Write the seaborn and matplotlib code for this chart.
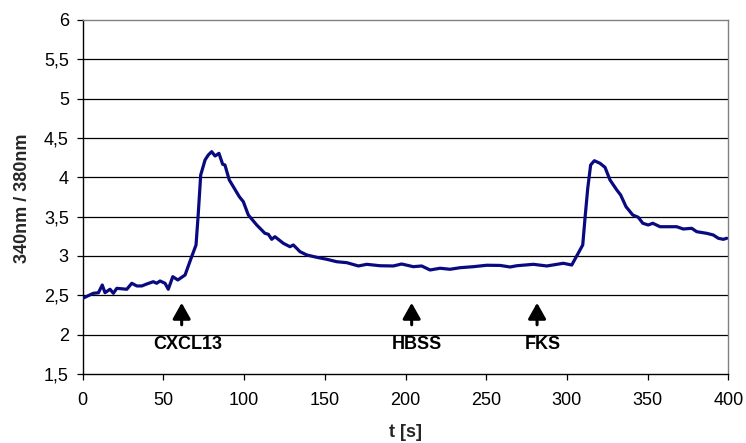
import matplotlib
matplotlib.use("Agg")
import matplotlib.pyplot as plt
import seaborn as sns
import pandas as pd

t_s = [0, 6.6, 9.7, 12.1, 13.8, 16.9, 19.0, 21.1, 27.3, 30.4, 33.5, 36.6, 39.7, 43.7,
       45.8, 47.9, 51.0, 53.0, 55.8, 58.9, 63.4, 67.5, 70.2, 71.6, 73.1, 75.8, 77.8,
       79.9, 82.0, 84.4, 86.7, 88.1, 90.8, 93.3, 97.0, 99.5, 102.6, 107.8, 112.9,
       115.0, 117.1, 119.1, 124.3, 128.4, 130.5, 134.6, 138.8, 145.0, 151.2, 157.4,
       163.6, 170.8, 176.0, 184.2, 192.4, 197.6, 204.8, 210.0, 215.2, 221.4, 227.6,
       233.8, 242.0, 250.3, 258.6, 264.8, 268.9, 279.2, 287.5, 297.8, 303.0, 309.8,
       311.2, 312.9, 314.7, 317.0, 320.5, 323.6, 326.7, 330.9, 333.3, 336.6, 340.8,
       344.2, 347.0, 350.4, 353.2, 357.7, 361.8, 368.0, 372.1, 377.3, 380.4, 386.6,
       390.7, 393.8, 396.9, 399.0]
ratio = [2.462, 2.526, 2.532, 2.631, 2.533, 2.577, 2.526, 2.589, 2.577, 2.653, 2.619,
         2.619, 2.644, 2.673, 2.653, 2.682, 2.653, 2.577, 2.737, 2.695, 2.758, 2.991,
         3.140, 3.543, 4.030, 4.221, 4.284, 4.326, 4.271, 4.305, 4.166, 4.157, 3.966,
         3.881, 3.754, 3.690, 3.521, 3.394, 3.288, 3.276, 3.212, 3.245, 3.161, 3.118,
         3.140, 3.055, 3.013, 2.983, 2.958, 2.927, 2.915, 2.873, 2.894, 2.876, 2.873,
         2.898, 2.864, 2.873, 2.822, 2.844, 2.831, 2.851, 2.864, 2.882, 2.880, 2.860,
         2.876, 2.894, 2.873, 2.907, 2.885, 3.140, 3.479, 3.861, 4.157, 4.211, 4.178,
         4.127, 3.966, 3.839, 3.775, 3.627, 3.521, 3.492, 3.416, 3.394, 3.416, 3.372,
         3.372, 3.372, 3.343, 3.352, 3.309, 3.288, 3.267, 3.225, 3.212, 3.225]

events = ["CXCL13", "HBSS", "FKS"]
event_t = [61.3, 203.8, 281.5]

x_ticks = [0, 50, 100, 150, 200, 250, 300, 350, 400]
y_ticks = [1.5, 2, 2.5, 3, 3.5, 4, 4.5, 5, 5.5, 6]
y_tick_labels = ["1,5", "2", "2,5", "3", "3,5", "4", "4,5", "5", "5,5", "6"]

sns.set_theme(style="white")
plt.rcParams["font.family"] = ["Liberation Sans", "DejaVu Sans"]

df = pd.DataFrame({"t": t_s, "r": ratio})

fig = plt.figure(figsize=(7.46, 4.43), dpi=100)
ax = fig.add_axes([0.1109, 0.1558, 0.8654, 0.7991])

for y in y_ticks[1:-1]:
    ax.axhline(y, color="black", lw=0.9, zorder=1)

sns.lineplot(data=df, x="t", y="r", ax=ax, color="#0a0a80", lw=2.3, zorder=3)

ax.set_xlim(0, 400)
ax.set_ylim(1.5, 6)
ax.set_xticks(x_ticks)
ax.set_xticklabels([str(v) for v in x_ticks])
ax.set_yticks(y_ticks)
ax.set_yticklabels(y_tick_labels)
ax.tick_params(axis="both", direction="out", length=4, width=0.9, color="black",
               labelsize=13, labelcolor="black", left=True, bottom=True)
ax.tick_params(axis="x", pad=9)
ax.tick_params(axis="y", pad=6)

for s in ["left", "bottom"]:
    ax.spines[s].set_color("black")
    ax.spines[s].set_linewidth(1.0)
for s in ["top", "right"]:
    ax.spines[s].set_color("#808080")
    ax.spines[s].set_linewidth(1.0)

ax.set_xlabel("t [s]", fontsize=13, fontweight="bold", va="center")
ax.set_ylabel("340nm / 380nm", fontsize=13, fontweight="bold", va="center", ha="center")
ax.xaxis.set_label_coords(0.5, -0.164)
ax.yaxis.set_label_coords(-0.094, 0.497)

for name, tx in zip(events, event_t):
    ax.annotate("", xy=(tx, 2.44), xytext=(tx, 2.09),
                arrowprops=dict(arrowstyle="-|>,head_width=0.45,head_length=0.8",
                                color="black", lw=2.2))
    ax.text(tx + 3.5, 1.869, name, ha="center", va="center", fontsize=13,
            fontweight="bold", color="black")

fig.savefig("out.png", dpi=100)
